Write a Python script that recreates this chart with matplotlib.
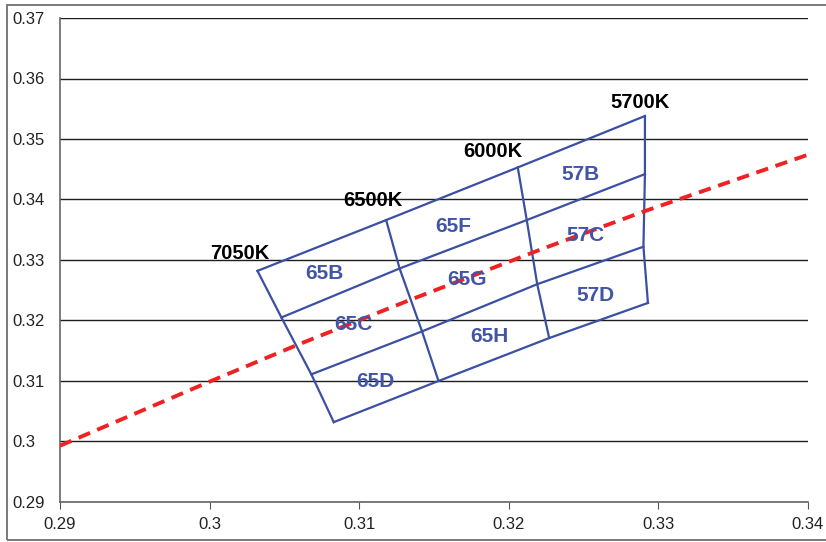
import matplotlib.pyplot as plt
from matplotlib.patches import Rectangle

plt.rcParams['font.family'] = ['Liberation Sans', 'DejaVu Sans']

# quadrangle corners: rows = Duv levels (top -> bottom), columns = CCT edges (cool -> warm)
cct_labels = ['7050K', '6500K', '6000K', '5700K']
grid_x = [[0.3032, 0.3118, 0.3206, 0.3291],
          [0.3048, 0.3127, 0.3212, 0.3291],
          [0.3068, 0.3142, 0.3219, 0.3290],
          [0.3083, 0.3153, 0.3227, 0.3293]]
grid_y = [[0.3282, 0.3366, 0.3453, 0.3538],
          [0.3205, 0.3286, 0.3366, 0.3442],
          [0.3111, 0.3182, 0.3260, 0.3322],
          [0.3032, 0.3100, 0.3171, 0.3229]]

# CCT label positions
cct_x = [0.3020, 0.3109, 0.3189, 0.3288]
cct_y = [0.3310, 0.3398, 0.3480, 0.3561]

# bin names and positions
bins = ['65B', '65C', '65D', '65F', '65G', '65H', '57B', '57C', '57D']
bin_x = [0.3077, 0.3096, 0.3111, 0.3163, 0.3172, 0.3187, 0.3248, 0.3251, 0.3258]
bin_y = [0.3278, 0.3193, 0.3099, 0.3355, 0.3267, 0.3173, 0.3442, 0.3341, 0.3242]

# blackbody locus
bb_x = [0.2900, 0.3001, 0.3059, 0.3134, 0.3223, 0.3290, 0.3400]
bb_y = [0.2993, 0.3100, 0.3160, 0.3234, 0.3319, 0.3380, 0.3474]

xticks = [0.29, 0.3, 0.31, 0.32, 0.33, 0.34]
yticks = [0.29, 0.3, 0.31, 0.32, 0.33, 0.34, 0.35, 0.36, 0.37]

blue = '#3b4fa3'
fig = plt.figure(figsize=(8.26, 5.42), dpi=100)
ax = fig.add_axes([60/826, 40/542, 748/826, 484/542])

for yv in yticks:
    ax.axhline(yv, color='#1e1e1e', lw=1.0, zorder=1)

for r in range(4):
    ax.plot(grid_x[r], grid_y[r], color=blue, lw=1.6, zorder=3)
for c in range(4):
    ax.plot([row[c] for row in grid_x], [row[c] for row in grid_y], color=blue, lw=1.6, zorder=3)

ax.plot(bb_x, bb_y, color='#ee2222', lw=2.8, dashes=(3.2, 2.0), zorder=4)

for t, x, y in zip(cct_labels, cct_x, cct_y):
    ax.text(x, y, t, ha='center', va='center', fontsize=14.5, fontweight='bold', color='black', zorder=5)
for t, x, y in zip(bins, bin_x, bin_y):
    ax.text(x, y, t, ha='center', va='center', fontsize=15, fontweight='bold', color='#4155a8', zorder=5)

ax.set_xlim(0.29, 0.34)
ax.set_ylim(0.29, 0.37)
ax.set_xticks(xticks)
ax.set_xticklabels([f'{v:g}' for v in xticks])
ax.set_yticks(yticks)
ax.set_yticklabels([f'{v:g}' for v in yticks])
ax.tick_params(axis='x', direction='out', length=5, color='#555555', pad=6, labelsize=12, labelcolor='#222222')
ax.tick_params(axis='y', length=0, pad=34.5, labelsize=12, labelcolor='#222222')
for lab in ax.get_yticklabels():
    lab.set_horizontalalignment('left')

for s in ['top', 'right']:
    ax.spines[s].set_visible(False)
for s in ['left', 'bottom']:
    ax.spines[s].set_color('#666666')
    ax.spines[s].set_linewidth(1.2)

fig.patches.append(Rectangle((7/826, 2/542), 1.0, 535/542, transform=fig.transFigure,
                             fill=False, edgecolor='#707070', lw=1.3))

fig.savefig('out.png', dpi=100)
